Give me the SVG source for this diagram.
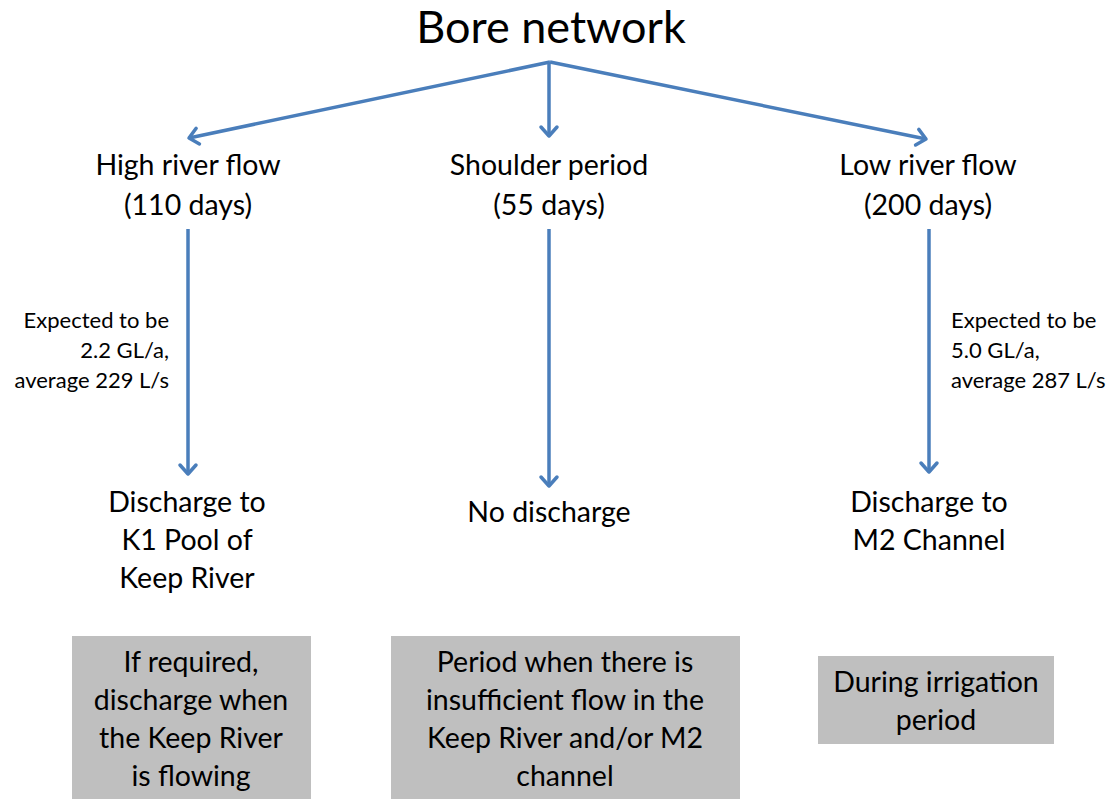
<svg xmlns="http://www.w3.org/2000/svg" width="1115" height="800" viewBox="0 0 1115 800">
<style>
text{font-family:Lato,"Liberation Sans",sans-serif;fill:#000;text-anchor:middle}
.t{font-size:28.5px}
.s{font-size:22px}
.h{font-size:45px}
.c{stroke:#4a7ebb;stroke-width:3.5;fill:none}
.box{fill:#bfbfbf}
</style>
<defs>
<marker id="ah" markerUnits="userSpaceOnUse" markerWidth="24" markerHeight="24" refX="12" refY="12" orient="auto" overflow="visible">
<path d="M3,4 L12,12 L3,20" fill="none" stroke="#4a7ebb" stroke-width="3.5" stroke-linecap="round" stroke-linejoin="round"/>
</marker>
</defs>
<g id="title"><text class="h" x="551" y="43">Bore network</text></g>
<g id="connectors">
<line class="c" x1="550" y1="62" x2="189" y2="138" marker-end="url(#ah)"/>
<line class="c" x1="549" y1="62" x2="549" y2="136" marker-end="url(#ah)"/>
<line class="c" x1="550" y1="62" x2="926" y2="139" marker-end="url(#ah)"/>
<line class="c" x1="188" y1="229" x2="188" y2="474" marker-end="url(#ah)"/>
<line class="c" x1="549" y1="229" x2="549" y2="486" marker-end="url(#ah)"/>
<line class="c" x1="929" y1="229" x2="929" y2="472" marker-end="url(#ah)"/>
</g>
<g id="high"><text class="t" x="188" y="175">High river flow</text><text class="t" x="188" y="215">(110 days)</text></g>
<g id="shoulder"><text class="t" x="549" y="175">Shoulder period</text><text class="t" x="549" y="215">(55 days)</text></g>
<g id="low"><text class="t" x="928" y="175">Low river flow</text><text class="t" x="928" y="215">(200 days)</text></g>
<g id="label-left"><text class="s" style="text-anchor:end" x="169" y="328">Expected to be</text><text class="s" style="text-anchor:end" x="169" y="358">2.2 GL/a,</text><text class="s" style="text-anchor:end" x="169" y="388">average 229 L/s</text></g>
<g id="label-right"><text class="s" style="text-anchor:start" x="951" y="328">Expected to be</text><text class="s" style="text-anchor:start" x="951" y="358">5.0 GL/a,</text><text class="s" style="text-anchor:start" x="951" y="388">average 287 L/s</text></g>
<g id="discharge-k1"><text class="t" x="187" y="512">Discharge to</text><text class="t" x="187" y="550">K1 Pool of</text><text class="t" x="187" y="588">Keep River</text></g>
<g id="no-discharge"><text class="t" x="549" y="522">No discharge</text></g>
<g id="discharge-m2"><text class="t" x="929" y="512">Discharge to</text><text class="t" x="929" y="550">M2 Channel</text></g>
<g id="box-left"><rect class="box" x="72" y="636" width="239" height="163"/><text class="t" x="191" y="672">If required,</text><text class="t" x="191" y="710">discharge when</text><text class="t" x="191" y="748">the Keep River</text><text class="t" x="191" y="786">is flowing</text></g>
<g id="box-center"><rect class="box" x="391" y="636" width="349" height="163"/><text class="t" x="565" y="672">Period when there is</text><text class="t" x="565" y="710">insufficient flow in the</text><text class="t" x="565" y="748">Keep River and/or M2</text><text class="t" x="565" y="786">channel</text></g>
<g id="box-right"><rect class="box" x="818" y="656" width="236" height="88"/><text class="t" x="936" y="692">During irrigation</text><text class="t" x="936" y="730">period</text></g>
</svg>
